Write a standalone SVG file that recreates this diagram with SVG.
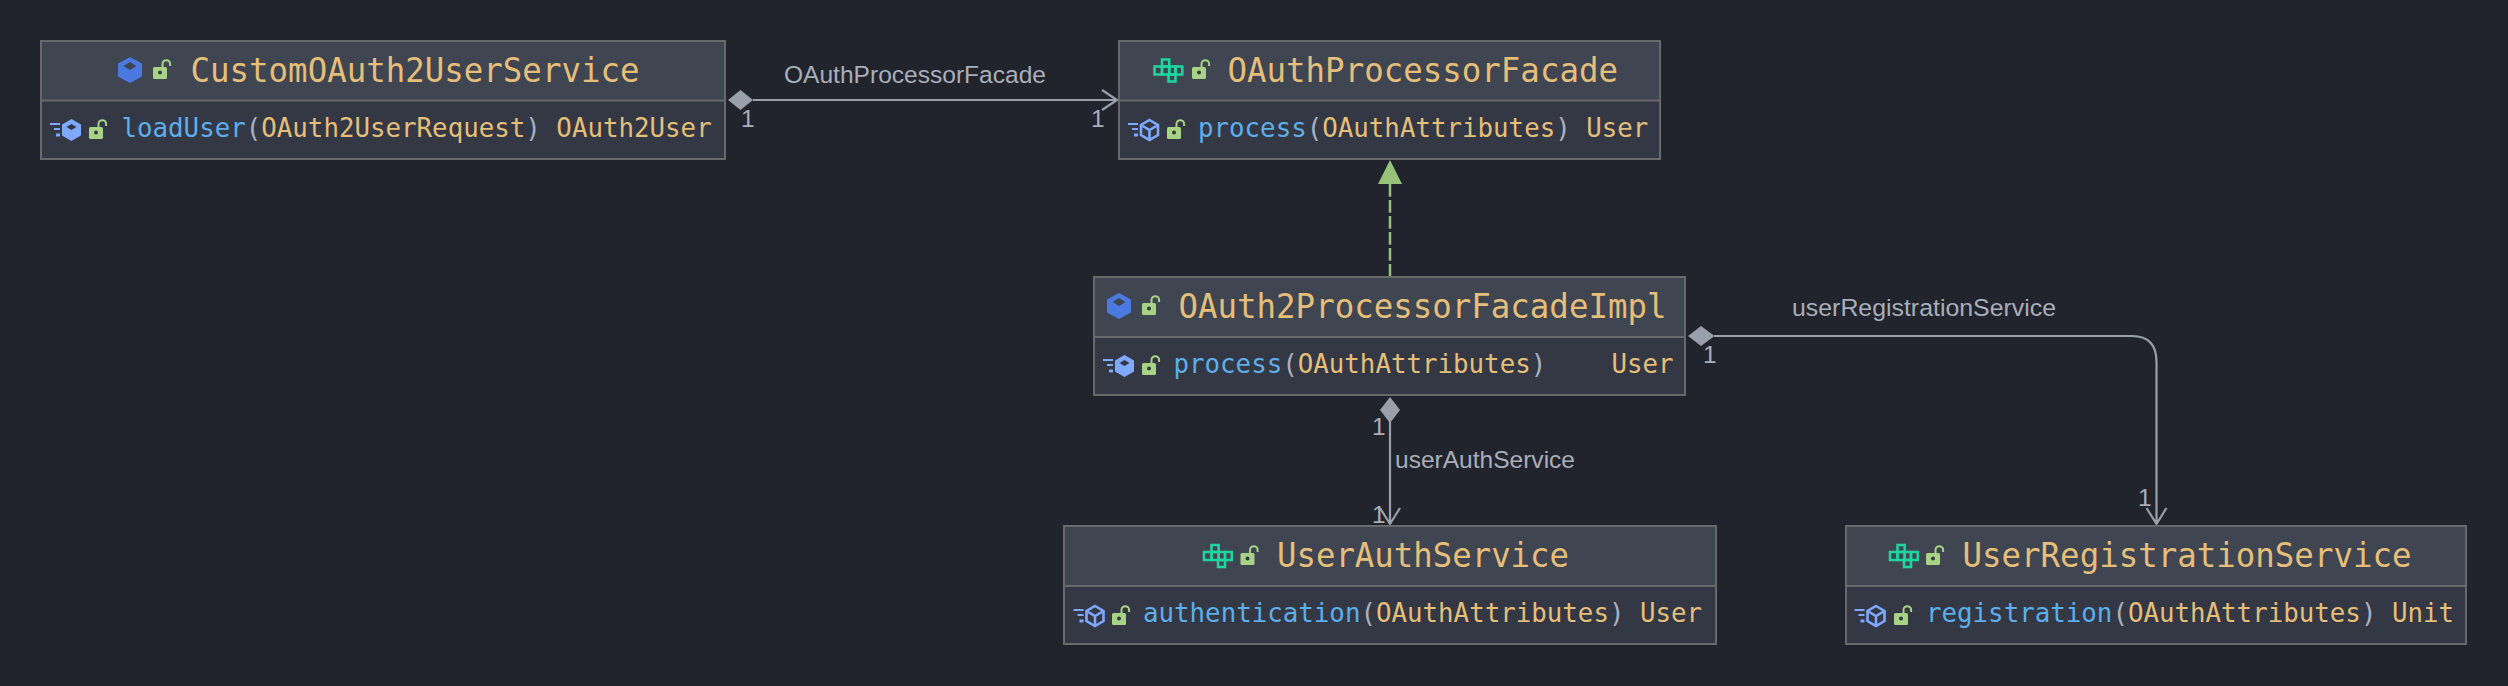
<svg xmlns="http://www.w3.org/2000/svg" width="2508" height="686" viewBox="0 0 2508 686">
<style>
.box{fill:#333844;stroke:none}
.head{fill:#404552}
.frame{fill:none;stroke:#68696b;stroke-width:2}
.div{stroke:#68696b;stroke-width:2}
.title{font:33px "DejaVu Sans Mono",monospace;fill:#e5bf7a}
.mem{font:25.800px "DejaVu Sans Mono",monospace;fill:#e5bf7a}
.fn{fill:#5eaeea}
.par{fill:#aab0c0}
.lbl{font:24.500px "Liberation Sans",Arial,sans-serif;fill:#a9aebb}
.one{font:24.500px "Liberation Sans",Arial,sans-serif;fill:#a9aebb}
.ln{fill:none;stroke:#9a9fac;stroke-width:2.200}
.dia{fill:#9a9fac}
</style>
<defs>
<g id="lock"><rect x="0" y="7" width="14" height="12" rx="1.500" fill="#a8d384"/><circle cx="7" cy="12.500" r="2" fill="#333844"/><path d="M9.500 7V4a3.800 3.800 0 0 1 7.600 0V6" fill="none" stroke="#a8d384" stroke-width="2"/></g>
<g id="cls"><path d="M0-13 12-6.500V6.500L0 13-12 6.500V-6.500Z" fill="#4a7ae0"/><path d="M0-8 6.500-4 0 0-6.500-4Z" fill="#404552"/></g>
<g id="ifc" fill="none" stroke="#1fd6a0" stroke-width="2.500"><rect x="-6" y="-11" width="7.200" height="7"/><rect x="-13.500" y="-4" width="7.500" height="8"/><rect x="-6" y="-4" width="7.200" height="8"/><rect x="1.200" y="-4" width="6.300" height="8"/><rect x="7.500" y="-4" width="6.800" height="8"/><rect x="0.500" y="4" width="7" height="7"/></g>
<g id="spd" fill="none" stroke="#7fa8ff"><path d="M0 0H10M4 5H10" stroke-width="2"/><path d="M6 11H10" stroke-width="3"/></g>
<g id="mcls"><use href="#spd" x="-21.500" y="-6"/><path d="M0-11 9.500-5.500V5.500L0 11-9.500 5.500V-5.500Z" fill="#7fa8ff"/><path d="M0-6 5-3 0 0-5-3Z" fill="#333844"/></g>
<g id="mifc"><use href="#spd" x="-21.500" y="-6"/><path d="M0-10 8.500-5V5L0 10-8.500 5V-5ZM-8.500-5 0 0 8.500-5M0 0V10" fill="none" stroke="#7fa8ff" stroke-width="2.600"/></g>
</defs>
<rect width="2508" height="686" fill="#21242c"/>
<g id="connectors">
<path class="ln" d="M753 100H1116M1102 90 1117 100 1102 110"/>
<path class="dia" d="M728 100 740.500 90 753 100 740.500 110Z"/>
<path d="M1390 184V276" fill="none" stroke="#97c277" stroke-width="2.500" stroke-dasharray="12.700 3.300"/>
<path d="M1390 160 1402 184H1378Z" fill="#97c277"/>
<path class="ln" d="M1390 420V524M1380 508 1390 524 1400 508"/>
<path class="dia" d="M1390 397 1400 410 1390 423 1380 410Z"/>
<path class="ln" d="M1714 336H2132Q2156.500 336 2156.500 362V524M2146.500 508 2156.500 524 2166.500 508"/>
<path class="dia" d="M1688 336 1701 326 1714.500 336 1701 346Z"/>
<text class="lbl" x="784" y="83" textLength="262" lengthAdjust="spacingAndGlyphs">OAuthProcessorFacade</text>
<text class="one" x="741" y="127">1</text>
<text class="one" x="1091" y="127">1</text>
<text class="one" x="1372" y="435">1</text>
<text class="one" x="1372" y="523">1</text>
<text class="lbl" x="1395" y="468" textLength="180" lengthAdjust="spacingAndGlyphs">userAuthService</text>
<text class="one" x="1703" y="363">1</text>
<text class="one" x="2138" y="506">1</text>
<text class="lbl" x="1792" y="316" textLength="264" lengthAdjust="spacingAndGlyphs">userRegistrationService</text>
</g>
<g id="CustomOAuth2UserService">
<rect class="box" x="40" y="40" width="686" height="119"/><rect class="head" x="40" y="40" width="686" height="60"/>
<rect class="frame" x="41" y="41" width="684" height="118"/><line class="div" x1="41" y1="100.500" x2="725" y2="100.500"/>
<use href="#cls" x="130" y="70"/><use href="#lock" x="153" y="60"/>
<text class="title" x="190.500" y="82" textLength="449" lengthAdjust="spacingAndGlyphs">CustomOAuth2UserService</text>
<use href="#mcls" x="71.500" y="130"/><use href="#lock" x="89" y="120"/>
<text class="mem" x="121.500" y="137"><tspan class="fn">loadUser</tspan><tspan class="par">(</tspan>OAuth2UserRequest<tspan class="par">)</tspan> OAuth2User</text>
</g>
<g id="OAuthProcessorFacade">
<rect class="box" x="1118" y="40" width="543" height="119"/><rect class="head" x="1118" y="40" width="543" height="60"/>
<rect class="frame" x="1119" y="41" width="541" height="118"/><line class="div" x1="1119" y1="100.500" x2="1660" y2="100.500"/>
<use href="#ifc" x="1168" y="70.500"/><use href="#lock" x="1192" y="60"/>
<text class="title" x="1227.500" y="82" textLength="390.500" lengthAdjust="spacingAndGlyphs">OAuthProcessorFacade</text>
<use href="#mifc" x="1149.500" y="130"/><use href="#lock" x="1167" y="120"/>
<text class="mem" x="1198" y="137"><tspan class="fn">process</tspan><tspan class="par">(</tspan>OAuthAttributes<tspan class="par">)</tspan> User</text>
</g>
<g id="OAuth2ProcessorFacadeImpl">
<rect class="box" x="1093" y="276" width="593" height="119"/><rect class="head" x="1093" y="276" width="593" height="60"/>
<rect class="frame" x="1094" y="277" width="591" height="118"/><line class="div" x1="1094" y1="337" x2="1685" y2="337"/>
<use href="#cls" x="1119" y="306"/><use href="#lock" x="1142" y="296"/>
<text class="title" x="1178.500" y="318" textLength="488" lengthAdjust="spacingAndGlyphs">OAuth2ProcessorFacadeImpl</text>
<use href="#mcls" x="1124.500" y="366"/><use href="#lock" x="1142" y="356"/>
<text class="mem" x="1173.500" y="373"><tspan class="fn">process</tspan><tspan class="par">(</tspan>OAuthAttributes<tspan class="par">)</tspan></text>
<text class="mem" x="1611.500" y="373">User</text>
</g>
<g id="UserAuthService">
<rect class="box" x="1063" y="525" width="654" height="119"/><rect class="head" x="1063" y="525" width="654" height="60"/>
<rect class="frame" x="1064" y="526" width="652" height="118"/><line class="div" x1="1064" y1="586" x2="1716" y2="586"/>
<use href="#ifc" x="1217.500" y="556"/><use href="#lock" x="1240.500" y="546"/>
<text class="title" x="1277" y="567" textLength="292" lengthAdjust="spacingAndGlyphs">UserAuthService</text>
<use href="#mifc" x="1095" y="616"/><use href="#lock" x="1112" y="606"/>
<text class="mem" x="1143" y="622"><tspan class="fn">authentication</tspan><tspan class="par">(</tspan>OAuthAttributes<tspan class="par">)</tspan> User</text>
</g>
<g id="UserRegistrationService">
<rect class="box" x="1845" y="525" width="622" height="119"/><rect class="head" x="1845" y="525" width="622" height="60"/>
<rect class="frame" x="1846" y="526" width="620" height="118"/><line class="div" x1="1846" y1="586" x2="2466" y2="586"/>
<use href="#ifc" x="1903.500" y="556"/><use href="#lock" x="1926" y="546"/>
<text class="title" x="1962.500" y="567" textLength="449" lengthAdjust="spacingAndGlyphs">UserRegistrationService</text>
<use href="#mifc" x="1876" y="616"/><use href="#lock" x="1894" y="606"/>
<text class="mem" x="1926" y="622"><tspan class="fn">registration</tspan><tspan class="par">(</tspan>OAuthAttributes<tspan class="par">)</tspan> Unit</text>
</g>
</svg>
